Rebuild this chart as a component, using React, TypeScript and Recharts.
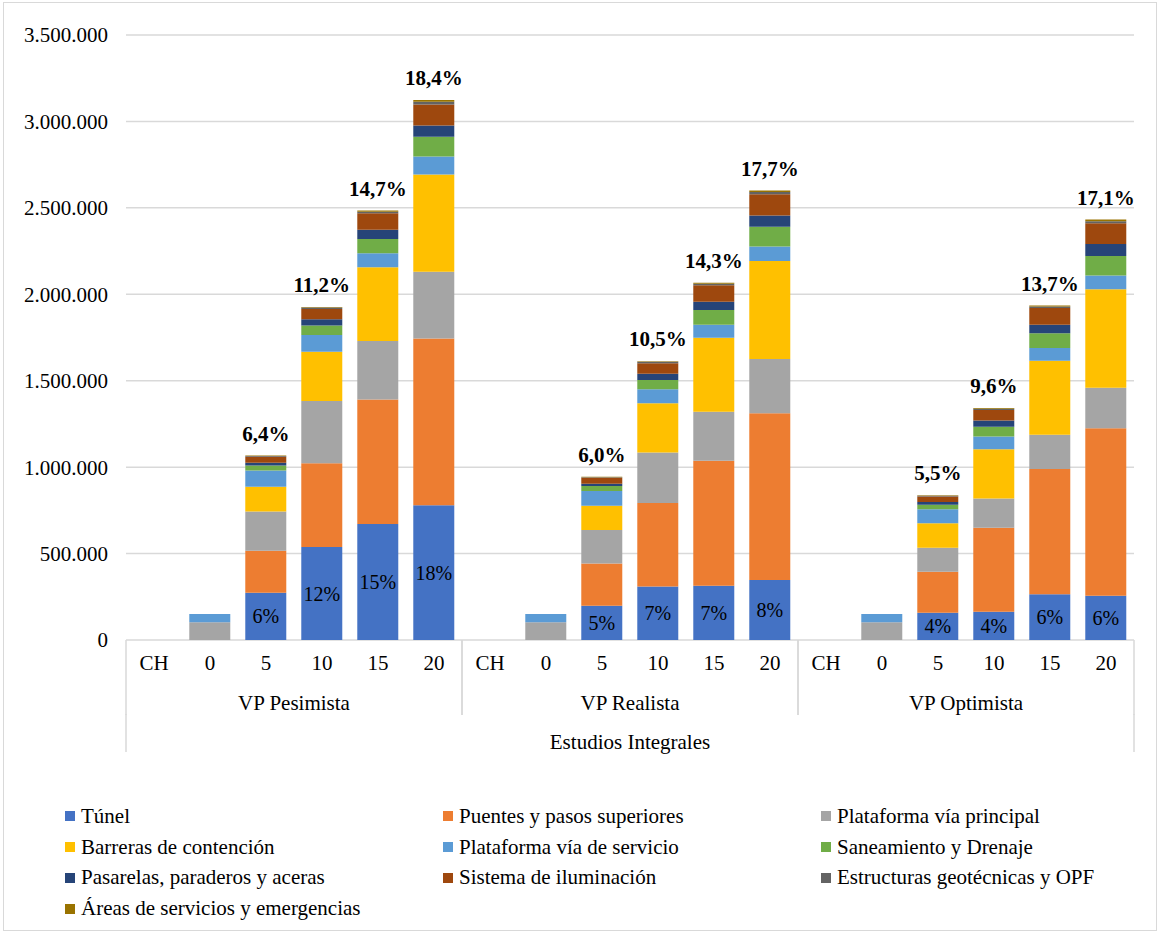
import React from "react";
import { BarChart, Bar, XAxis, YAxis, CartesianGrid, LabelList, Legend } from "recharts";

const FONT = "'Liberation Serif', 'Times New Roman', serif";

const yearLabels = ["CH", "0", "5", "10", "15", "20"];
const groups = ["VP Pesimista", "VP Realista", "VP Optimista"];
const studyLabel = "Estudios Integrales";

const tunel = [null, 0, 274000, 538000, 671000, 780000, null, 0, 198000, 309000, 314000, 347000, null, 0, 158000, 164000, 264000, 256000];
const puentes = [null, 0, 243000, 484000, 721000, 964000, null, 0, 245000, 483000, 723000, 965000, null, 0, 237000, 486000, 725000, 969000];
const platPrincipal = [null, 102000, 226000, 361000, 338000, 386000, null, 102000, 193000, 293000, 284000, 313000, null, 102000, 139000, 168000, 199000, 235000];
const barreras = [null, 0, 143000, 284000, 426000, 563000, null, 0, 141000, 284000, 428000, 567000, null, 0, 141000, 286000, 427000, 569000];
const platServicio = [null, 48000, 94000, 97000, 81000, 104000, null, 48000, 85000, 81000, 75000, 85000, null, 48000, 81000, 73000, 74000, 79000];
const saneamiento = [null, 0, 29000, 56000, 83000, 114000, null, 0, 29000, 54000, 85000, 114000, null, 0, 27000, 56000, 85000, 114000];
const pasarelas = [null, 0, 16000, 35000, 54000, 65000, null, 0, 13000, 37000, 48000, 65000, null, 0, 16000, 37000, 50000, 69000];
const iluminacion = [null, 0, 35000, 60000, 95000, 122000, null, 0, 35000, 60000, 95000, 122000, null, 0, 31000, 60000, 97000, 120000];
const geotecnicas = [null, 0, 4000, 8000, 9000, 16000, null, 0, 3000, 8000, 9000, 14000, null, 0, 5000, 8000, 8000, 12000];
const areas = [null, 0, 3000, 3000, 6000, 10000, null, 0, 2000, 3000, 6000, 8000, null, 0, 3000, 4000, 6000, 9000];

const totalLabels = ["", "1,1%", "6,4%", "11,2%", "14,7%", "18,4%", "", "1,1%", "6,0%", "10,5%", "14,3%", "17,7%", "", "1,1%", "5,5%", "9,6%", "13,7%", "17,1%"];
const tunelLabels = ["", "", "6%", "12%", "15%", "18%", "", "", "5%", "7%", "7%", "8%", "", "", "4%", "4%", "6%", "6%"];

const yTicks = [0, 500000, 1000000, 1500000, 2000000, 2500000, 3000000, 3500000];

const series = [
  { key: "tunel", name: "Túnel", color: "#4472C4", values: tunel },
  { key: "puentes", name: "Puentes y pasos superiores", color: "#ED7D31", values: puentes },
  { key: "platPrincipal", name: "Plataforma vía principal", color: "#A5A5A5", values: platPrincipal },
  { key: "barreras", name: "Barreras de contención", color: "#FFC000", values: barreras },
  { key: "platServicio", name: "Plataforma vía de servicio", color: "#5B9BD5", values: platServicio },
  { key: "saneamiento", name: "Saneamiento y Drenaje", color: "#70AD47", values: saneamiento },
  { key: "pasarelas", name: "Pasarelas, paraderos y aceras", color: "#264478", values: pasarelas },
  { key: "iluminacion", name: "Sistema de iluminación", color: "#9E480E", values: iluminacion },
  { key: "geotecnicas", name: "Estructuras geotécnicas y OPF", color: "#636363", values: geotecnicas },
  { key: "areas", name: "Áreas de servicios y emergencias", color: "#997300", values: areas },
];

const data: any[] = [];
groups.forEach((g, gi) => {
  yearLabels.forEach((yl, yi) => {
    const i = gi * yearLabels.length + yi;
    const row: any = { id: `${g}-${yl}`, cat: yl, group: g, study: studyLabel, totalLabel: totalLabels[i], tunelLabel: tunelLabels[i] };
    series.forEach((s) => {
      row[s.key] = s.values[i];
    });
    data.push(row);
  });
});

const fmt = (n: number) => String(n).replace(/\B(?=(\d{3})+(?!\d))/g, ".");

const GRID = "#D9D9D9";

const CatTick = (props: any) => {
  const { x, y, payload, index } = props;
  return (
    <text x={x} y={y + 30} textAnchor="middle" fontSize={21} fontFamily={FONT} fill="#000">
      {yearLabels[index % yearLabels.length] ?? payload.value}
    </text>
  );
};

const GroupTick = (props: any) => {
  const { x, y, payload, width } = props;
  const bw = (width || 1008) / groups.length;
  return (
    <g>
      <line x1={x - bw / 2} x2={x - bw / 2} y1={y - 38} y2={y + 37} stroke={GRID} strokeWidth={1.5} />
      <line x1={x + bw / 2} x2={x + bw / 2} y1={y - 38} y2={y + 37} stroke={GRID} strokeWidth={1.5} />
      <text x={x} y={y + 32} textAnchor="middle" fontSize={21} fontFamily={FONT} fill="#000">
        {payload.value}
      </text>
    </g>
  );
};

const StudyTick = (props: any) => {
  const { x, y, payload, width } = props;
  const bw = width || 1008;
  return (
    <g>
      <line x1={x - bw / 2} x2={x - bw / 2} y1={y - 2} y2={y + 36} stroke={GRID} strokeWidth={1.5} />
      <line x1={x + bw / 2} x2={x + bw / 2} y1={y - 2} y2={y + 36} stroke={GRID} strokeWidth={1.5} />
      <text x={x} y={y + 33} textAnchor="middle" fontSize={21} fontFamily={FONT} fill="#000">
        {payload.value}
      </text>
    </g>
  );
};

const LegendContent = () => (
  <div style={{ display: "grid", gridTemplateColumns: "378px 378px 378px", fontFamily: FONT, fontSize: 21, color: "#000" }}>
    {series.map((s) => (
      <div key={s.key} style={{ height: 30.8, display: "flex", alignItems: "center", whiteSpace: "nowrap" }}>
        <span style={{ display: "inline-block", width: 10, height: 10, background: s.color, marginRight: 6 }} />
        <span>{s.name}</span>
      </div>
    ))}
  </div>
);

export default function App() {
  return (
    <div style={{ position: "relative", width: 1161, height: 935, background: "#fff" }}>
      <style>{`body{margin:0;}`}</style>
      <div style={{ position: "absolute", left: 3, top: 2, width: 1154, height: 929, border: `1px solid ${GRID}`, boxSizing: "border-box", pointerEvents: "none" }} />
      <BarChart
        width={1161}
        height={935}
        data={data}
        margin={{ top: 35, right: 27, left: 0, bottom: 181 }}
        barCategoryGap="13%"
      >
        <CartesianGrid vertical={false} stroke={GRID} strokeWidth={1.5} />
        <YAxis
          domain={[0, 3500000]}
          ticks={yTicks}
          tickFormatter={fmt}
          axisLine={false}
          tickLine={false}
          tickSize={0}
          tickMargin={18}
          width={126}
          tick={{ fill: "#000", fontSize: 21, fontFamily: FONT }}
          interval={0}
        />
        <XAxis dataKey="id" height={38} axisLine={false} tickLine={false} tickSize={0} tickMargin={0} interval={0} tick={<CatTick />} />
        <XAxis xAxisId="grp" dataKey="group" allowDuplicatedCategory={false} height={38} axisLine={false} tickLine={false} tickSize={0} tickMargin={0} interval={0} tick={<GroupTick />} />
        <XAxis xAxisId="study" dataKey="study" allowDuplicatedCategory={false} height={38} axisLine={false} tickLine={false} tickSize={0} tickMargin={0} interval={0} tick={<StudyTick />} />
        {series.map((s, si) => (
          <Bar key={s.key} dataKey={s.key} name={s.name} stackId="a" fill={s.color} isAnimationActive={false}>
            {si === 0 && (
              <LabelList dataKey="tunelLabel" position="center" fill="#000" fontSize={20} fontFamily={FONT} />
            )}
            {si === series.length - 1 && (
              <LabelList dataKey="totalLabel" position="top" offset={15} fill="#000" fontSize={21} fontWeight={700} fontFamily={FONT} />
            )}
          </Bar>
        ))}
        <Legend
          layout="horizontal"
          verticalAlign="middle"
          align="center"
          wrapperStyle={{ top: 801, left: 65, width: 1134, height: 125 }}
          content={<LegendContent />}
        />
      </BarChart>
    </div>
  );
}
